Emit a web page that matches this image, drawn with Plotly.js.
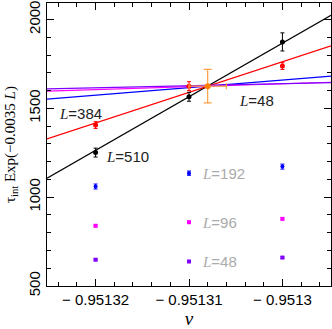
<!DOCTYPE html>
<html>
<head>
<meta charset="utf-8">
<script src="https://cdn.plot.ly/plotly-3.0.1.min.js"></script>
<style>
  html, body { margin: 0; padding: 0; background: #fff; }
  #chart { width: 332px; height: 329px; }
</style>
</head>
<body>
<div id="chart"></div>
<script>
// couplings where tau_int was measured
const nu = [-0.95132, -0.95131, -0.9513];

// rescaled tau_int for large sizes (upper group)
const tau510 = [1251, 1565, 1874];
const err510 = [25, 25, 51];
const tau384 = [1406, 1625, 1738];
const err384 = [19, 25, 19];

// raw tau_int for small sizes (lower group)
const tau192 = [1060, 1135, 1172];
const err192 = [14, 12, 14];
const tau96 = [839, 859, 878];
const err96 = [6, 6, 6];
const tau48 = [648, 638, 660];
const err48 = [5, 5, 5];

// crossing estimate
const crossNu = [-0.951308];
const crossTau = [1625];
const crossErrNu = [0.000002];
const crossErrTau = [94];

// fit lines, evaluated at the two ends of the x range
const fitNu = [-0.9513252, -0.9512948];
const fit510 = [1107, 2024];
const fit384 = [1328, 1852];
const fit192 = [1552, 1681];
const fit96 = [1597, 1647];
const fit48 = [1610, 1645];

const xTicks = [-0.95132, -0.95131, -0.9513];
const xTickText = ['\u2212 0.95132', '\u2212 0.95131', '\u2212 0.9513'];

function fitLine(y, color) {
    return {
        x: fitNu, y: y, type: 'scatter', mode: 'lines',
        line: { color: color, width: 1.2 }, hoverinfo: 'skip'
    };
}

function points(y, err, color, symbol, size) {
    return {
        x: nu, y: y, type: 'scatter', mode: 'markers',
        marker: { color: color, symbol: symbol, size: size },
        error_y: { type: 'data', array: err, color: color, thickness: 1, width: 2 }
    };
}

const traces = [
    fitLine(fit510, '#000000'),
    fitLine(fit384, '#ff0000'),
    fitLine(fit192, '#0000ff'),
    fitLine(fit96, '#ff00ff'),
    fitLine(fit48, '#8000ff'),
    points(tau510, err510, '#000000', 'circle', 5),
    points(tau384, err384, '#ff0000', 'circle', 5),
    points(tau192, err192, '#0000ff', 'circle', 4),
    points(tau96, err96, '#ff00ff', 'square', 4),
    points(tau48, err48, '#8000ff', 'square', 4),
    {
        x: crossNu, y: crossTau, type: 'scatter', mode: 'markers',
        marker: { color: '#ff8000', symbol: 'circle', size: 6 },
        error_y: { type: 'data', array: crossErrTau, color: '#ffa040', thickness: 1.2, width: 4 },
        error_x: { type: 'data', array: crossErrNu, color: '#ffa040', thickness: 1.2, width: 3 }
    }
];

const serif = 'Liberation Serif, Times New Roman, serif';
const sans = 'Liberation Sans, Arial, sans-serif';

function label(text, x, y, color) {
    return {
        xref: 'paper', yref: 'paper', x: x, y: y,
        xanchor: 'left', yanchor: 'middle', showarrow: false,
        text: '<span style="font-family:' + serif + '"><i>L</i></span>=' + text,
        font: { family: sans, size: 15, color: color }
    };
}

const layout = {
    width: 332, height: 329,
    margin: { l: 47, r: 1, t: 3, b: 43 },
    paper_bgcolor: '#ffffff', plot_bgcolor: '#ffffff',
    showlegend: false,
    xaxis: {
        range: [-0.9513252, -0.9512948],
        tickmode: 'array', tickvals: xTicks, ticktext: xTickText,
        ticks: 'inside', ticklen: 7, tickcolor: '#000',
        showline: true, linecolor: '#000', linewidth: 1, mirror: 'allticks',
        showgrid: false, zeroline: false,
        tickfont: { family: sans, size: 15, color: '#000' },
        minor: { dtick: 0.000002, tick0: -0.95132, ticks: 'inside', ticklen: 4, tickcolor: '#000', showgrid: false },
        title: { text: '<i>ν</i>', font: { family: serif, size: 19, color: '#000' }, standoff: 8 }
    },
    yaxis: {
        range: [500, 2093],
        tick0: 500, dtick: 500,
        ticks: 'inside', ticklen: 7, tickcolor: '#000', tickangle: -90,
        showline: true, linecolor: '#000', linewidth: 1, mirror: 'allticks',
        showgrid: false, zeroline: false,
        tickfont: { family: sans, size: 15, color: '#000' },
        minor: { dtick: 100, ticks: 'inside', ticklen: 4, tickcolor: '#000', showgrid: false },
        title: { text: 'τ<sub>int</sub> Exp(−0.0035 <i>L</i>)', font: { family: serif, size: 15, color: '#000' }, standoff: 6 }
    },
    annotations: [
        label('384', 0.035, 0.611, '#222'),
        label('510', 0.2, 0.459, '#222'),
        label('48', 0.669, 0.657, '#222'),
        label('192', 0.539, 0.396, '#aaaaaa'),
        label('96', 0.539, 0.226, '#aaaaaa'),
        label('48', 0.539, 0.088, '#aaaaaa')
    ]
};

Plotly.newPlot('chart', traces, layout, { displayModeBar: false, staticPlot: true });
</script>
</body>
</html>
